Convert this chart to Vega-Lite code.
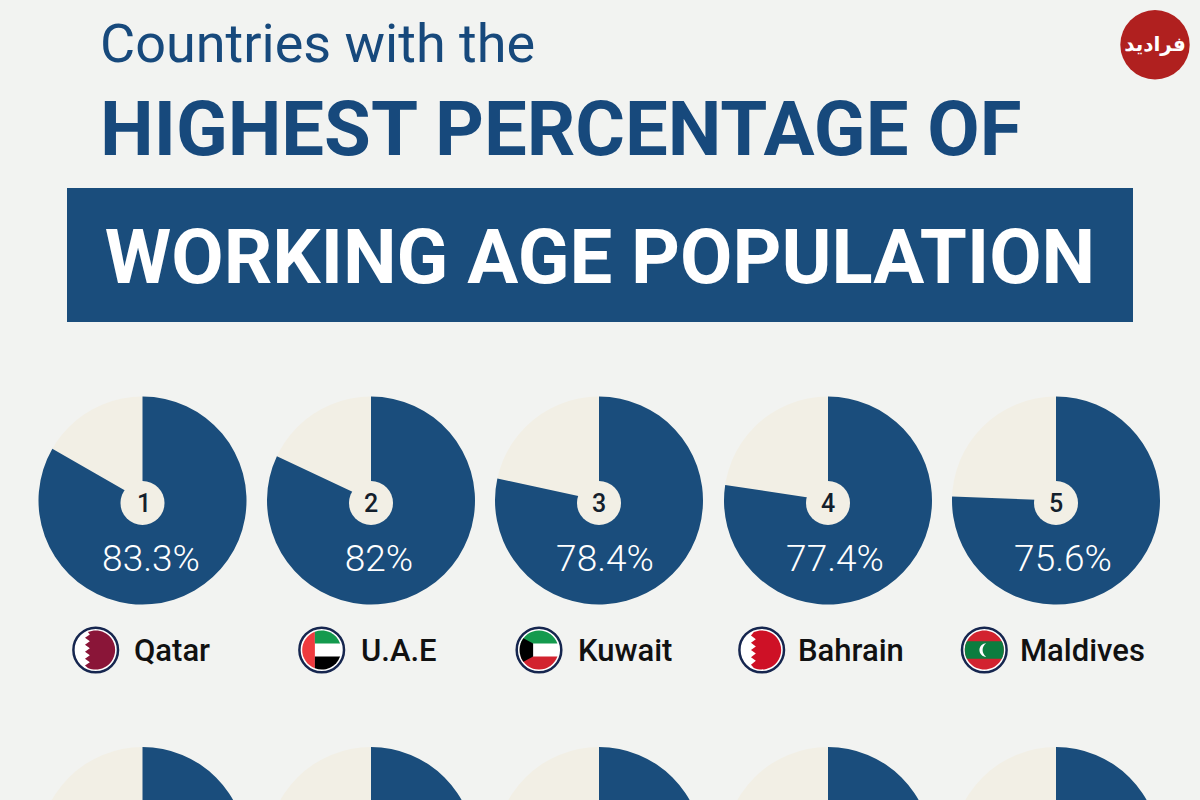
{
"$schema":"https://vega.github.io/schema/vega-lite/v6.json",
"width":1200,"height":800,"padding":0,"autosize":"none","background":"#f2f3f1",
"config":{"view":{"stroke":null},"axis":{"disable":true}},
"datasets":{
"lines":[{"line":1,"text":"Countries with the"},{"line":2,"text":"HIGHEST PERCENTAGE OF"},{"line":3,"text":"WORKING AGE POPULATION"}],
"pies":[
{"rank":1,"row":1,"country":"Qatar","value":83.3,"label":"83.3%"},
{"rank":2,"row":1,"country":"U.A.E","value":82,"label":"82%"},
{"rank":3,"row":1,"country":"Kuwait","value":78.4,"label":"78.4%"},
{"rank":4,"row":1,"country":"Bahrain","value":77.4,"label":"77.4%"},
{"rank":5,"row":1,"country":"Maldives","value":75.6,"label":"75.6%"},
{"rank":1,"row":2,"value":75},{"rank":2,"row":2,"value":75},{"rank":3,"row":2,"value":75},{"rank":4,"row":2,"value":75},{"rank":5,"row":2,"value":75}],
"flagParts":[
{"rank":1,"part":"qatar"},
{"rank":2,"part":"uaeRed"},{"rank":2,"part":"uaeGreen"},{"rank":2,"part":"uaeBlack"},
{"rank":3,"part":"kuwaitGreen"},{"rank":3,"part":"kuwaitRed"},{"rank":3,"part":"kuwaitBlack"},
{"rank":4,"part":"bahrain"},
{"rank":5,"part":"maldivesRed"},{"rank":5,"part":"maldivesGreen"},{"rank":5,"part":"maldivesMoon"}]
},
"layer":[
{"data":{"values":[{"line":3}]},
 "mark":{"type":"rect","width":1066,"height":134,"color":"#1a4d7c"},
 "encoding":{"x":{"field":"line","type":"quantitative","axis":null,"scale":{"domain":[1,3],"range":[100,600]}},
 "y":{"field":"line","type":"quantitative","axis":null,"scale":{"domain":[1,3],"range":[42,255]}}}},
{"data":{"name":"lines"},"transform":[{"filter":"datum.line==1"}],
 "mark":{"type":"text","font":"Roboto","fontSize":54,"align":"left","baseline":"alphabetic","color":"#17497c"},
 "encoding":{"text":{"field":"text"},
 "x":{"field":"line","type":"quantitative","axis":null,"scale":{"domain":[1,3],"range":[100,600]}},
 "y":{"field":"line","type":"quantitative","axis":null,"scale":{"domain":[1,2],"range":[62,157]}}}},
{"data":{"name":"lines"},"transform":[{"filter":"datum.line==2"}],
 "mark":{"type":"text","font":"Roboto","fontWeight":"bold","fontSize":76,"align":"left","baseline":"alphabetic","color":"#17497c"},
 "encoding":{"text":{"field":"text"},
 "x":{"field":"line","type":"quantitative","axis":null,"scale":{"domain":[1,2],"range":[100,100]}},
 "y":{"field":"line","type":"quantitative","axis":null,"scale":{"domain":[1,2],"range":[62,155]}}}},
{"data":{"name":"lines"},"transform":[{"filter":"datum.line==3"}],
 "mark":{"type":"text","font":"Roboto","fontWeight":"bold","fontSize":76,"align":"center","baseline":"alphabetic","color":"#ffffff"},
 "encoding":{"text":{"field":"text"},
 "x":{"field":"line","type":"quantitative","axis":null,"scale":{"domain":[1,3],"range":[100,600]}},
 "y":{"field":"line","type":"quantitative","axis":null,"scale":{"domain":[1,3],"range":[62,283]}}}},
{"data":{"values":[{"logo":1}]},
 "mark":{"type":"point","shape":"circle","filled":true,"size":4816,"opacity":1,"color":"#b0201f"},
 "encoding":{"x":{"field":"logo","type":"quantitative","axis":null,"scale":{"domain":[0,1],"range":[0,1155]}},
 "y":{"field":"logo","type":"quantitative","axis":null,"scale":{"domain":[0,1],"range":[0,44.7]}}}},
{"data":{"values":[{"logo":1,"name":"فرادید"}]},
 "mark":{"type":"text","font":"DejaVu Sans","fontWeight":"bold","fontSize":20,"align":"center","baseline":"middle","color":"#ffffff"},
 "encoding":{"text":{"field":"name"},"x":{"field":"logo","type":"quantitative","axis":null,"scale":{"domain":[0,1],"range":[0,1155]}},
 "y":{"field":"logo","type":"quantitative","axis":null,"scale":{"domain":[0,1],"range":[0,44.7]}}}},
{"data":{"name":"pies"},
 "mark":{"type":"arc","theta":0,"theta2":6.2832,"radius":104,"color":"#f2efe5"},
 "encoding":{"x":{"field":"rank","type":"quantitative","axis":null,"scale":{"domain":[1,2,3,4,5],"range":[142.5,371,599,828,1056]}},
 "y":{"field":"row","type":"quantitative","axis":null,"scale":{"domain":[1,2],"range":[500.5,851]}}}},
{"data":{"name":"pies"},
 "mark":{"type":"arc","radius":104,"color":"#1a4d7c"},
 "encoding":{"x":{"field":"rank","type":"quantitative","axis":null,"scale":{"domain":[1,2,3,4,5],"range":[142.5,371,599,828,1056]}},
 "y":{"field":"row","type":"quantitative","axis":null,"scale":{"domain":[1,2],"range":[500.5,851]}},
 "theta":{"field":"value","type":"quantitative","stack":null,"scale":{"domain":[0,100],"range":[0,6.2832]}},
 "theta2":{"value":0}}},
{"data":{"name":"pies"},
 "mark":{"type":"point","shape":"circle","filled":true,"size":1936,"opacity":1,"color":"#f2efe5"},
 "encoding":{"x":{"field":"rank","type":"quantitative","axis":null,"scale":{"domain":[1,2,3,4,5],"range":[142.5,371,599,828,1056]}},
 "y":{"field":"row","type":"quantitative","axis":null,"scale":{"domain":[1,2],"range":[503,855]}}}},
{"data":{"name":"pies"},"transform":[{"filter":"datum.row==1"}],
 "mark":{"type":"text","font":"Roboto","fontWeight":500,"fontSize":25,"align":"center","baseline":"middle","color":"#14202c"},
 "encoding":{"text":{"field":"rank"},"x":{"field":"rank","type":"quantitative","axis":null,"scale":{"domain":[1,2,3,4,5],"range":[144,371,599,828,1056]}},
 "y":{"field":"row","type":"quantitative","axis":null,"scale":{"domain":[1,2],"range":[504,856]}}}},
{"data":{"name":"pies"},"transform":[{"filter":"datum.row==1"}],
 "mark":{"type":"text","font":"Roboto","fontWeight":300,"fontSize":37,"align":"center","baseline":"alphabetic","color":"#ffffff"},
 "encoding":{"text":{"field":"label"},"x":{"field":"rank","type":"quantitative","axis":null,"scale":{"domain":[1,2,3,4,5],"range":[151,379,605,835,1063]}},
 "y":{"field":"row","type":"quantitative","axis":null,"scale":{"domain":[1,2],"range":[571,920]}}}},
{"data":{"name":"pies"},"transform":[{"filter":"datum.row==1"}],
 "mark":{"type":"point","shape":"circle","filled":true,"size":1989,"opacity":1,"color":"#ffffff","stroke":"#16264f","strokeWidth":2.5},
 "encoding":{"x":{"field":"rank","type":"quantitative","axis":null,"scale":{"domain":[1,2,3,4,5],"range":[95.7,321.7,539,761.7,984.3]}},
 "y":{"field":"row","type":"quantitative","axis":null,"scale":{"domain":[1,2],"range":[650,1000]}}}},
{"data":{"name":"flagParts"},
 "mark":{"type":"point","filled":true,"size":1521,"opacity":1,"strokeWidth":0},
 "encoding":{"x":{"field":"rank","type":"quantitative","axis":null,"scale":{"domain":[1,2,3,4,5],"range":[95.7,321.7,539,761.7,984.3]}},
 "y":{"datum":1,"type":"quantitative","axis":null,"scale":{"domain":[1,2],"range":[650,1000]}},
 "shape":{"field":"part","type":"nominal","legend":null,"scale":{
  "domain":["qatar","uaeRed","uaeGreen","uaeBlack","kuwaitGreen","kuwaitRed","kuwaitBlack","bahrain","maldivesRed","maldivesGreen","maldivesMoon"],
  "range":[
  "M-0.4,-0.917A1,1,0,1,1,-0.4,0.917L-0.55,0.8L-0.3,0.63L-0.55,0.45L-0.3,0.27L-0.55,0.09L-0.3,-0.09L-0.55,-0.27L-0.3,-0.45L-0.55,-0.63L-0.3,-0.8Z",
  "M-0.35,-0.937A1,1,0,0,0,-0.35,0.937Z",
  "M-0.35,-0.937A1,1,0,0,1,0.944,-0.33L-0.35,-0.33Z",
  "M-0.35,0.33L0.944,0.33A1,1,0,0,1,-0.35,0.937Z",
  "M-0.944,-0.33A1,1,0,0,1,0.944,-0.33Z",
  "M-0.944,0.33L0.944,0.33A1,1,0,0,1,-0.944,0.33Z",
  "M-0.8,-0.6L-0.3,-0.33L-0.3,0.33L-0.8,0.6A1,1,0,0,1,-0.8,-0.6Z",
  "M-0.4,-0.917A1,1,0,1,1,-0.4,0.917L-0.55,0.75L-0.3,0.55L-0.55,0.37L-0.3,0.18L-0.55,0L-0.3,-0.18L-0.55,-0.37L-0.3,-0.55L-0.55,-0.75Z",
  "M-1,0A1,1,0,1,1,1,0A1,1,0,1,1,-1,0Z",
  "M-0.893,-0.45L0.893,-0.45A1,1,0,0,1,0.893,0.45L-0.893,0.45A1,1,0,0,1,-0.893,-0.45Z",
  "M0.1,-0.35A0.35,0.35,0,1,0,0.1,0.35A0.42,0.42,0,0,1,0.1,-0.35Z"]}},
 "color":{"field":"part","type":"nominal","legend":null,"scale":{
  "domain":["qatar","uaeRed","uaeGreen","uaeBlack","kuwaitGreen","kuwaitRed","kuwaitBlack","bahrain","maldivesRed","maldivesGreen","maldivesMoon"],
  "range":["#8a1538","#ef3b3f","#149a4e","#000000","#149a4e","#d2232f","#000000","#ce1126","#d2232f","#0c7d3f","#ffffff"]}}}},
{"data":{"name":"pies"},"transform":[{"filter":"datum.row==1"}],
 "mark":{"type":"text","font":"Roboto","fontWeight":500,"fontSize":31,"align":"left","baseline":"alphabetic","color":"#111111"},
 "encoding":{"text":{"field":"country"},"x":{"field":"rank","type":"quantitative","axis":null,"scale":{"domain":[1,2,3,4,5],"range":[134,361,578,798,1020]}},
 "y":{"field":"row","type":"quantitative","axis":null,"scale":{"domain":[1,2],"range":[661,1000]}}}}
],
"resolve":{"scale":{"x":"independent","y":"independent","theta":"independent","color":"independent","shape":"independent"}}
}
